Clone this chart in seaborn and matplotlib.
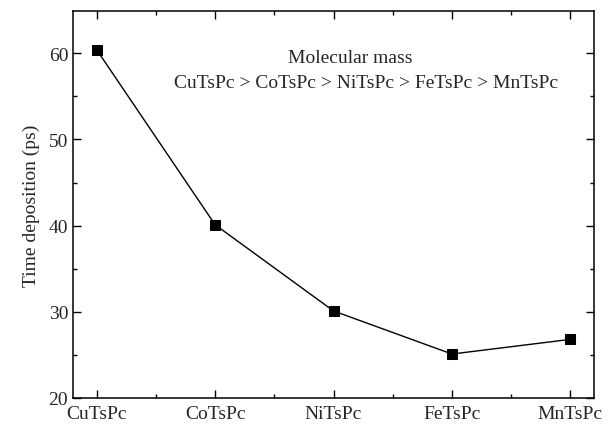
import matplotlib
matplotlib.use("Agg")
import matplotlib.pyplot as plt
import seaborn as sns
import pandas as pd
from matplotlib.ticker import MultipleLocator

categories = ["CuTsPc", "CoTsPc", "NiTsPc", "FeTsPc", "MnTsPc"]
time_dep = [60.4, 40.1, 30.1, 25.1, 26.8]

sns.set_theme(style="ticks")
plt.rcParams['font.family'] = ['Liberation Serif', 'DejaVu Serif']

df = pd.DataFrame({"x": range(len(categories)), "y": time_dep})

fig = plt.figure(figsize=(6.15, 4.27), dpi=100)
ax = fig.add_axes([0.1187, 0.0656, 0.8472, 0.9063])
sns.lineplot(data=df, x="x", y="y", ax=ax, color="black", linewidth=1,
             marker="s", markersize=6.5, markeredgecolor="black", markerfacecolor="black")

ax.set_xlim(-0.2, 4.2)
ax.set_ylim(20, 64.9)
ax.set_xticks(range(len(categories)))
ax.set_xticklabels(categories)
ax.xaxis.set_minor_locator(MultipleLocator(0.5))
ax.yaxis.set_major_locator(MultipleLocator(10))
ax.yaxis.set_minor_locator(MultipleLocator(5))
ax.tick_params(which="both", direction="in", top=True, right=True, labelsize=14, width=1, color="black")
ax.tick_params(which="major", length=5.5)
ax.tick_params(which="minor", length=3)
ax.tick_params(axis="x", pad=5)
ax.set_xlabel("")
ax.set_ylabel("Time deposition (ps)", fontsize=14, labelpad=6)
for s in ax.spines.values():
    s.set_linewidth(1.1)
    s.set_color("black")

ax.text(0.532, 0.881, "Molecular mass", transform=ax.transAxes, ha="center", va="center", fontsize=14)
ax.text(0.562, 0.814, "CuTsPc > CoTsPc > NiTsPc > FeTsPc > MnTsPc", transform=ax.transAxes,
        ha="center", va="center", fontsize=14)

fig.savefig("out.png", dpi=100)
